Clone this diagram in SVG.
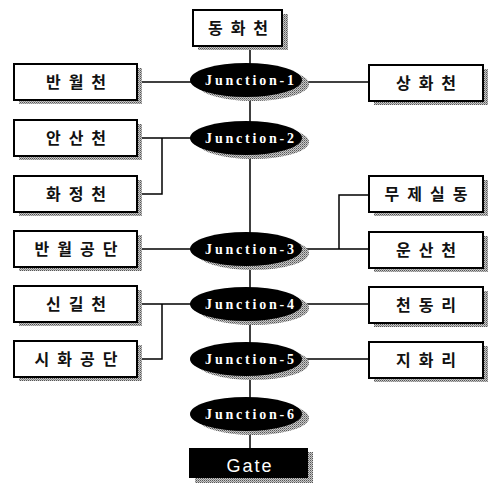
<svg xmlns="http://www.w3.org/2000/svg" width="490" height="491" viewBox="0 0 490 491">
<defs>
<pattern id="ht" width="2" height="2" patternUnits="userSpaceOnUse">
<rect width="2" height="2" fill="#c8c8c8"/>
<rect width="1" height="1" fill="#555"/>
<rect x="1" y="1" width="1" height="1" fill="#888"/>
</pattern>
</defs>
<style>
.box{fill:#fff;stroke:#000;stroke-width:2}
.sh{fill:url(#ht)}
.ko{font-family:"Noto Sans CJK KR","Noto Sans",sans-serif;font-size:16px;font-weight:700;letter-spacing:8px;text-anchor:middle;fill:#111}
.jn{fill:#000}
.jt{font-family:"Liberation Serif","Times New Roman",serif;font-size:14px;font-weight:700;letter-spacing:2.8px;text-anchor:middle;fill:#fff}
.ln{stroke:#000;stroke-width:1.5;fill:none}
</style>
<rect width="490" height="491" fill="#fff"/>
<g id="connectors">
<path class="ln" d="M250 46V448"/>
<path class="ln" d="M137 82H200"/>
<path class="ln" d="M292 82H369"/>
<path class="ln" d="M137 138H200M137 194H162V138"/>
<path class="ln" d="M137 249H200"/>
<path class="ln" d="M292 249H369M339 249V195H369"/>
<path class="ln" d="M137 304H200M137 359H162V304"/>
<path class="ln" d="M292 304H369"/>
<path class="ln" d="M292 359H369"/>
</g>
<g id="n-donghwa"><rect class="sh" x="198" y="14" width="90" height="36"/><rect class="box" x="193" y="10" width="89" height="36"/><text class="ko" x="242" y="33.5">동화천</text></g>
<g id="n-banwol"><rect class="sh" x="19" y="68" width="123" height="36"/><rect class="box" x="14" y="64" width="123" height="36"/><text class="ko" x="80" y="87.5">반월천</text></g>
<g id="n-ansan"><rect class="sh" x="19" y="124" width="123" height="36"/><rect class="box" x="14" y="120" width="123" height="36"/><text class="ko" x="80" y="143.5">안산천</text></g>
<g id="n-hwajeong"><rect class="sh" x="19" y="180" width="123" height="36"/><rect class="box" x="14" y="176" width="123" height="36"/><text class="ko" x="80" y="199.5">화정천</text></g>
<g id="n-banwolgongdan"><rect class="sh" x="19" y="235" width="123" height="36"/><rect class="box" x="14" y="231" width="123" height="36"/><text class="ko" x="80" y="254.5">반월공단</text></g>
<g id="n-singil"><rect class="sh" x="19" y="290" width="123" height="36"/><rect class="box" x="14" y="286" width="123" height="36"/><text class="ko" x="80" y="309.5">신길천</text></g>
<g id="n-sihwagongdan"><rect class="sh" x="19" y="345" width="123" height="36"/><rect class="box" x="14" y="341" width="123" height="36"/><text class="ko" x="80" y="364.5">시화공단</text></g>
<g id="n-sanghwa"><rect class="sh" x="374" y="69" width="114" height="36"/><rect class="box" x="369" y="65" width="114" height="36"/><text class="ko" x="430" y="88.5">상화천</text></g>
<g id="n-mujesil"><rect class="sh" x="374" y="180" width="114" height="36"/><rect class="box" x="369" y="176" width="114" height="36"/><text class="ko" x="430" y="199.5">무제실동</text></g>
<g id="n-unsan"><rect class="sh" x="374" y="236" width="114" height="36"/><rect class="box" x="369" y="232" width="114" height="36"/><text class="ko" x="430" y="255.5">운산천</text></g>
<g id="n-cheondong"><rect class="sh" x="374" y="291" width="114" height="36"/><rect class="box" x="369" y="287" width="114" height="36"/><text class="ko" x="430" y="310.5">천동리</text></g>
<g id="n-jihwa"><rect class="sh" x="374" y="346" width="114" height="36"/><rect class="box" x="369" y="342" width="114" height="36"/><text class="ko" x="430" y="365.5">지화리</text></g>
<g id="j1"><ellipse class="sh" cx="253" cy="84" rx="56" ry="17"/><ellipse class="jn" cx="246" cy="80" rx="56" ry="17"/><text class="jt" x="251" y="85">Junction-1</text></g>
<g id="j2"><ellipse class="sh" cx="253" cy="142" rx="56" ry="17"/><ellipse class="jn" cx="246" cy="138" rx="56" ry="17"/><text class="jt" x="251" y="143">Junction-2</text></g>
<g id="j3"><ellipse class="sh" cx="253" cy="253" rx="56" ry="17"/><ellipse class="jn" cx="246" cy="249" rx="56" ry="17"/><text class="jt" x="251" y="254">Junction-3</text></g>
<g id="j4"><ellipse class="sh" cx="253" cy="308" rx="56" ry="17"/><ellipse class="jn" cx="246" cy="304" rx="56" ry="17"/><text class="jt" x="251" y="309">Junction-4</text></g>
<g id="j5"><ellipse class="sh" cx="253" cy="363" rx="56" ry="17"/><ellipse class="jn" cx="246" cy="359" rx="56" ry="17"/><text class="jt" x="251" y="364">Junction-5</text></g>
<g id="j6"><ellipse class="sh" cx="253" cy="418" rx="56" ry="17"/><ellipse class="jn" cx="246" cy="414" rx="56" ry="17"/><text class="jt" x="251" y="419">Junction-6</text></g>
<g id="gate"><rect class="sh" x="195" y="452" width="118" height="31"/><rect x="189" y="448" width="119" height="30" fill="#000"/><text x="250" y="472" font-family="Liberation Sans,Arial,sans-serif" font-size="18" fill="#fff" text-anchor="middle" letter-spacing="2">Gate</text></g>
</svg>
